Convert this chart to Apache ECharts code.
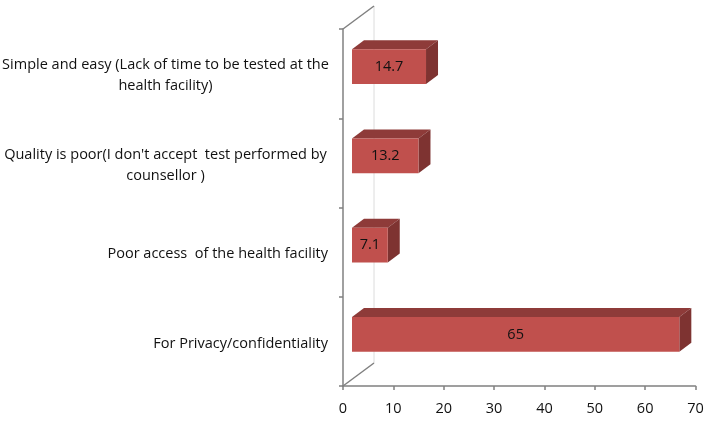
<!DOCTYPE html>
<html>
<head>
<meta charset="utf-8">
<style>
  html, body { margin: 0; padding: 0; background: #fff; }
  #chart { width: 717px; height: 428px; }
</style>
<script src="https://cdn.jsdelivr.net/npm/echarts@6/dist/echarts.min.js"></script>
</head>
<body>
<div id="chart"></div>
<script>
/* categories run top to bottom, the y axis is inverted */
const categories = [
  "Simple and easy (Lack of time to be tested at the\nhealth facility)",
  "Quality is poor(I don't accept  test performed by\ncounsellor )",
  "Poor access  of the health facility",
  "For Privacy/confidentiality",
];
const values = [14.7, 13.2, 7.1, 65];
const xTicks = { min: 0, max: 70, interval: 10 };

const FONT = "Open Sans";
const FONT_SIZE = 14.5;
const AXIS_COLOR = "#808080";
const DEPTH_X = 12;
const DEPTH_Y = 9;
const WALL_X = 31;
const WALL_Y = 23;

const chart = echarts.init(document.getElementById("chart"));

function renderBar(params, api) {
  const start = api.coord([0, api.value(1)]);
  const end = api.coord([api.value(0), api.value(1)]);
  const band = api.size([0, 1])[1];
  const h = band * 0.39;
  const x0 = start[0] + 9;
  const x1 = end[0] + 9;
  const y0 = start[1] - 7 - h / 2;
  const y1 = y0 + h;
  const dx = DEPTH_X;
  const dy = DEPTH_Y;
  return {
    type: "group",
    children: [
      {
        type: "polygon",
        shape: { points: [[x0, y0], [x0 + dx, y0 - dy], [x1 + dx, y0 - dy], [x1, y0]] },
        style: { fill: "#8e3b39" },
      },
      {
        type: "polygon",
        shape: { points: [[x1, y0], [x1 + dx, y0 - dy], [x1 + dx, y1 - dy], [x1, y1]] },
        style: { fill: "#7e3331" },
      },
      {
        type: "rect",
        shape: { x: x0, y: y0, width: x1 - x0, height: h },
        style: { fill: "#c0504d" },
      },
      {
        type: "text",
        style: {
          x: (x0 + x1) / 2,
          y: (y0 + y1) / 2,
          text: String(api.value(0)),
          fill: "#111",
          font: FONT_SIZE + "px '" + FONT + "'",
          align: "center",
          verticalAlign: "middle",
        },
      },
    ],
  };
}

/* back wall edges of the fake 3D box */
function renderWall(params, api) {
  const corner = api.coord([0, categories[categories.length - 1]]);
  const band = api.size([0, 1])[1];
  const x = corner[0];
  const bottom = corner[1] + band / 2;
  const top = bottom - band * categories.length;
  const edge = { stroke: AXIS_COLOR, lineWidth: 1.5 };
  return {
    type: "group",
    children: [
      {
        type: "line",
        shape: { x1: x + WALL_X, y1: top - WALL_Y, x2: x + WALL_X, y2: bottom - WALL_Y },
        style: { stroke: "#dcdcdc", lineWidth: 1 },
      },
      {
        type: "line",
        shape: { x1: x, y1: top, x2: x + WALL_X, y2: top - WALL_Y },
        style: edge,
      },
      {
        type: "line",
        shape: { x1: x, y1: bottom, x2: x + WALL_X, y2: bottom - WALL_Y },
        style: edge,
      },
    ],
  };
}

const option = {
  backgroundColor: "#fff",
  animation: false,
  grid: { left: 343, top: 29, width: 352.5, height: 357, outerBoundsMode: "none" },
  xAxis: {
    type: "value",
    position: "bottom",
    min: xTicks.min,
    max: xTicks.max,
    interval: xTicks.interval,
    splitLine: { show: false },
    axisLine: { show: true, lineStyle: { color: AXIS_COLOR, width: 1.5 } },
    axisTick: { show: true, length: 4, lineStyle: { color: AXIS_COLOR, width: 1.5 } },
    axisLabel: { color: "#111", fontFamily: FONT, fontSize: FONT_SIZE, margin: 15 },
  },
  yAxis: {
    type: "category",
    inverse: true,
    data: categories,
    axisLine: { show: true, lineStyle: { color: AXIS_COLOR, width: 1.5 } },
    axisTick: { show: true, length: 4, lineStyle: { color: AXIS_COLOR, width: 1.5 } },
    axisLabel: {
      margin: 15,
      interval: 0,
      align: "right",
      color: "#111",
      fontFamily: FONT,
      fontSize: FONT_SIZE,
      lineHeight: 21,
      padding: [4, 0, 0, 0],
      formatter: function (text) {
        const lines = text.split("\n");
        if (lines.length < 2) return text;
        return lines.map((l) => "{c|" + l + "}").join("\n");
      },
      rich: {
        c: {
          width: 325,
          align: "center",
          color: "#111",
          fontFamily: FONT,
          fontSize: FONT_SIZE,
          lineHeight: 21,
        },
      },
    },
  },
  series: [
    {
      type: "custom",
      renderItem: renderWall,
      data: [[0, 0]],
      silent: true,
      z: 1,
    },
    {
      type: "custom",
      renderItem: renderBar,
      encode: { x: 0, y: 1 },
      data: values.map((v, i) => [v, i]),
      z: 2,
    },
  ],
};

chart.setOption(option);
</script>
</body>
</html>
